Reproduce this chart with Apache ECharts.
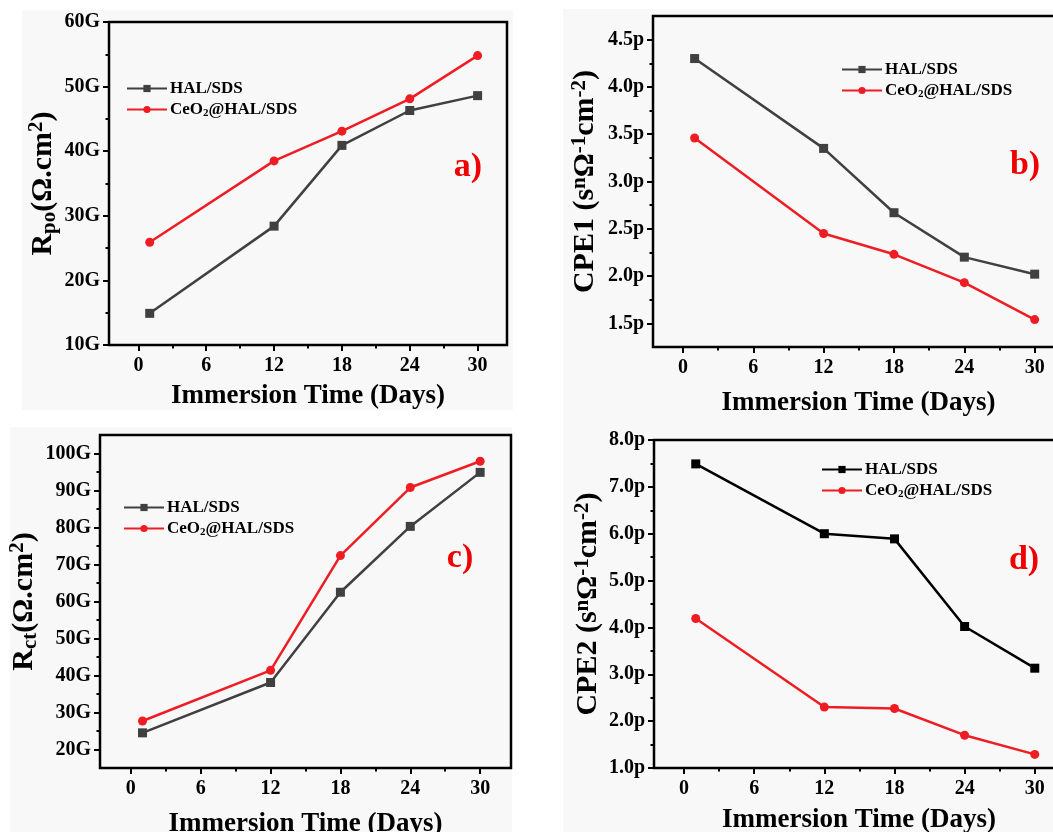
<!DOCTYPE html>
<html>
<head>
<meta charset="utf-8">
<script src="https://cdn.jsdelivr.net/npm/echarts@6/dist/echarts.min.js"></script>
<style>
html,body{margin:0;padding:0;background:#fff;}
#chart{width:1053px;height:832px;}
</style>
</head>
<body>
<div id="chart"></div>
<script>
// immersion days and measured values (G = 1e9 ohm.cm2, p = 1e-12)
const days = [1, 12, 18, 24, 30];
const rpoHal = [14.9, 28.4, 40.9, 46.3, 48.6];
const rpoCeo = [25.9, 38.5, 43.1, 48.1, 54.8];
const cpe1Hal = [4.30, 3.35, 2.67, 2.20, 2.02];
const cpe1Ceo = [3.46, 2.45, 2.23, 1.93, 1.54];
const rctHal = [24.5, 38.1, 62.5, 80.3, 94.9];
const rctCeo = [27.7, 41.4, 72.4, 90.8, 97.9];
const cpe2Hal = [7.49, 6.00, 5.89, 4.02, 3.13];
const cpe2Ceo = [4.19, 2.30, 2.27, 1.70, 1.29];

const dayTicks = [0, 6, 12, 18, 24, 30];
const dayMinor = [3, 9, 15, 21, 27];
const rpoTicks = [10, 20, 30, 40, 50, 60];
const rpoMinor = [15, 25, 35, 45, 55];
const cpe1Ticks = [1.5, 2.0, 2.5, 3.0, 3.5, 4.0, 4.5];
const cpe1Minor = [1.75, 2.25, 2.75, 3.25, 3.75, 4.25];
const rctTicks = [20, 30, 40, 50, 60, 70, 80, 90, 100];
const rctMinor = [25, 35, 45, 55, 65, 75, 85, 95];
const cpe2Ticks = [1, 2, 3, 4, 5, 6, 7, 8];
const cpe2Minor = [1.5, 2.5, 3.5, 4.5, 5.5, 6.5, 7.5];

const legendHal = 'HAL/SDS';
const legendCeo = '{t|CeO}{s|2}{t|@HAL/SDS}';

const FONT = '"Liberation Serif", "Times New Roman", serif';
const RED = '#ee1d23';

let chart = echarts.init(document.getElementById('chart'));

const panels = [
	{
		key: 'a', box: [109, 22, 398, 323], xr: [-2.6, 32.6], yr: [10, 60],
		yTicks: rpoTicks, yMinor: rpoMinor, fmt: v => v + 'G',
		hal: rpoHal, ceo: rpoCeo, halColor: '#404040',
		yName: '{m|R}{sub|po}{m|(Ω.cm}{sup|2}{m|)}', yGap: 49, xGap: 38,
		legend: [126, 80], tag: [468, 167]
	},
	{
		key: 'b', box: [653, 16, 411, 331], xr: [-2.55, 32.5], yr: [1.25, 4.75],
		yTicks: cpe1Ticks, yMinor: cpe1Minor, fmt: v => v.toFixed(1) + 'p',
		hal: cpe1Hal, ceo: cpe1Ceo, halColor: '#404040',
		yName: '{m|CPE1 (s}{sup|n}{m|Ω}{sup|-1}{m|cm}{sup|-2}{m|)}', yGap: 52, xGap: 43,
		legend: [841, 61], tag: [1025, 165]
	},
	{
		key: 'c', box: [100, 435, 411, 333], xr: [-2.65, 32.65], yr: [15, 105],
		yTicks: rctTicks, yMinor: rctMinor, fmt: v => v + 'G',
		hal: rctHal, ceo: rctCeo, halColor: '#404040',
		yName: '{m|R}{sub|ct}{m|(Ω.cm}{sup|2}{m|)}', yGap: 52, xGap: 43,
		legend: [123, 499], tag: [460, 558]
	},
	{
		key: 'd', box: [654, 440, 410, 328], xr: [-2.57, 32.5], yr: [1, 8],
		yTicks: cpe2Ticks, yMinor: cpe2Minor, fmt: v => v.toFixed(1) + 'p',
		hal: cpe2Hal, ceo: cpe2Ceo, halColor: '#000000',
		yName: '{m|CPE2 (s}{sup|n}{m|Ω}{sup|-1}{m|cm}{sup|-2}{m|)}', yGap: 50, xGap: 39,
		legend: [821, 461], tag: [1024, 560]
	}
];

const tickStyle = {color: '#000', width: 2};
const labelStyle = {color: '#000', fontFamily: FONT, fontWeight: 'bold', fontSize: 20};
const nameRich = {
	m: {fontFamily: FONT, fontWeight: 'bold', fontSize: 30, color: '#000'},
	sub: {fontFamily: FONT, fontWeight: 'bold', fontSize: 21, color: '#000', verticalAlign: 'bottom', padding: [13, 0, 0, 0]},
	sup: {fontFamily: FONT, fontWeight: 'bold', fontSize: 21, color: '#000', verticalAlign: 'top', padding: [0, 0, 11, 0]}
};

let grids = [], xAxes = [], yAxes = [], series = [], legends = [], graphics = [];

// light panel backgrounds
[[22, 10, 491, 400], [563, 9, 490, 411], [10, 427, 502, 405], [563, 420, 490, 412]].forEach(r => {
	graphics.push({type: 'rect', z: -10, shape: {x: r[0], y: r[1], width: r[2], height: r[3]}, style: {fill: '#f8f8f8'}});
});

panels.forEach((p, i) => {
	grids.push({
		left: p.box[0], top: p.box[1], width: p.box[2], height: p.box[3],
		show: true, borderColor: '#000', borderWidth: 2.5, backgroundColor: 'transparent',
		containLabel: false, outerBoundsMode: 'none'
	});
	xAxes.push({
		type: 'value', gridIndex: i, position: 'bottom', min: p.xr[0], max: p.xr[1],
		axisLine: {show: false, onZero: false}, splitLine: {show: false},
		axisTick: {show: true, customValues: dayTicks, length: 6, lineStyle: tickStyle},
		axisLabel: {customValues: dayTicks, margin: 11, ...labelStyle},
		name: 'Immersion Time (Days)', nameLocation: 'middle', nameGap: p.xGap,
		nameTextStyle: {fontFamily: FONT, fontWeight: 'bold', fontSize: 27, color: '#000'}
	});
	xAxes.push({
		type: 'value', gridIndex: i, position: 'bottom', min: p.xr[0], max: p.xr[1],
		axisLine: {show: false, onZero: false}, splitLine: {show: false}, axisLabel: {show: false},
		axisTick: {show: true, customValues: dayMinor, length: 3.5, lineStyle: tickStyle}
	});
	yAxes.push({
		type: 'value', gridIndex: i, position: 'left', min: p.yr[0], max: p.yr[1],
		axisLine: {show: false, onZero: false}, splitLine: {show: false},
		axisTick: {show: true, customValues: p.yTicks, length: 6, lineStyle: tickStyle},
		axisLabel: {customValues: p.yTicks, margin: 9, formatter: p.fmt, ...labelStyle},
		name: p.yName, nameLocation: 'middle', nameGap: p.yGap, nameRotate: 90,
		nameTextStyle: {rich: nameRich}
	});
	yAxes.push({
		type: 'value', gridIndex: i, position: 'left', min: p.yr[0], max: p.yr[1],
		axisLine: {show: false, onZero: false}, splitLine: {show: false}, axisLabel: {show: false},
		axisTick: {show: true, customValues: p.yMinor, length: 3.5, lineStyle: tickStyle}
	});
	series.push({
		name: p.key + '_hal', type: 'line', xAxisIndex: 2 * i, yAxisIndex: 2 * i,
		data: days.map((d, k) => [d, p.hal[k]]),
		symbol: 'rect', symbolSize: 9,
		lineStyle: {color: p.halColor, width: 2.5}, itemStyle: {color: p.halColor}
	});
	series.push({
		name: p.key + '_ceo', type: 'line', xAxisIndex: 2 * i, yAxisIndex: 2 * i,
		data: days.map((d, k) => [d, p.ceo[k]]),
		symbol: 'circle', symbolSize: 9,
		lineStyle: {color: RED, width: 2.5}, itemStyle: {color: RED}
	});
	legends.push({
		data: [p.key + '_hal', p.key + '_ceo'], orient: 'vertical',
		left: p.legend[0], top: p.legend[1], itemWidth: 40, itemHeight: 9, itemGap: 4,
		padding: 0, selectedMode: false,
		formatter: n => n.endsWith('_hal') ? legendHal : legendCeo,
		textStyle: {
			color: '#000', fontFamily: FONT, fontWeight: 'bold', fontSize: 17, padding: [0, 0, 0, -2],
			rich: {
				t: {color: '#000', fontFamily: FONT, fontWeight: 'bold', fontSize: 17},
				s: {color: '#000', fontFamily: FONT, fontWeight: 'bold', fontSize: 11, verticalAlign: 'bottom', padding: [8, 0, 0, 0]}
			}
		}
	});
	graphics.push({
		type: 'text', x: p.tag[0], y: p.tag[1],
		style: {text: p.key + ')', fill: '#f00000', font: 'bold 34px ' + FONT, textAlign: 'center', textVerticalAlign: 'middle'}
	});
});

chart.setOption({
	animation: false,
	backgroundColor: '#ffffff',
	grid: grids,
	xAxis: xAxes,
	yAxis: yAxes,
	legend: legends,
	series: series,
	graphic: graphics
});
</script>
</body>
</html>
